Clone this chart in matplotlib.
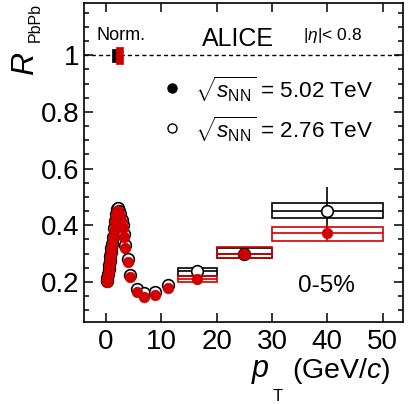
import numpy as np
import matplotlib
matplotlib.use('Agg')
import matplotlib.pyplot as plt
from matplotlib.patches import Rectangle
from matplotlib.ticker import MultipleLocator, FixedLocator, FixedFormatter

plt.rcParams['font.family'] = ['Liberation Sans', 'DejaVu Sans']
plt.rcParams['mathtext.fontset'] = 'custom'
plt.rcParams['mathtext.rm'] = 'Liberation Sans'
plt.rcParams['mathtext.it'] = 'Liberation Sans:italic'
plt.rcParams['mathtext.bf'] = 'Liberation Sans:bold'

# sqrt(sNN) = 5.02 TeV (red, filled)
pt_502 = [0.175, 0.25, 0.35, 0.45, 0.55, 0.65, 0.75, 0.85, 0.95, 1.05, 1.2, 1.4, 1.6,
          1.8, 2.0, 2.2, 2.4, 2.6, 2.8, 3.0, 3.2, 3.5, 3.9, 4.4, 5.6, 6.8, 8.9, 11.2,
          16.5, 25.0, 40.0]
raa_502 = [0.20, 0.21, 0.225, 0.24, 0.255, 0.27, 0.285, 0.30, 0.315, 0.33, 0.355, 0.385, 0.41,
           0.435, 0.45, 0.45, 0.44, 0.43, 0.41, 0.39, 0.36, 0.32, 0.27, 0.218, 0.165, 0.147, 0.154, 0.18,
           0.21, 0.30, 0.373]
stat_502 = [0.002] * 28 + [0.008, 0.012, 0.03]

# sqrt(sNN) = 2.76 TeV (black, open)
pt_276 = pt_502
raa_276 = [0.205, 0.215, 0.23, 0.245, 0.26, 0.275, 0.29, 0.305, 0.32, 0.335, 0.36, 0.39, 0.415,
           0.44, 0.458, 0.46, 0.45, 0.44, 0.42, 0.40, 0.37, 0.33, 0.28, 0.225, 0.175, 0.16, 0.165, 0.19,
           0.239, 0.30, 0.451]
stat_276 = [0.002] * 28 + [0.012, 0.02, 0.085]

# systematic boxes for the high-pT bins
bin_lo = [13.0, 20.0, 30.0]
bin_hi = [20.0, 30.0, 50.0]
sys_502 = [0.011, 0.02, 0.025]
sys_276 = [0.014, 0.018, 0.027]
cen_502_box = [0.21, 0.305, 0.37]
cen_276_box = [0.235, 0.302, 0.452]

# normalisation uncertainties
norm_x = [1.1, 1.8]
norm_w = [0.7, 1.3]
norm_unc = [0.023, 0.03]

red = '#d00000'

fig = plt.figure(figsize=(4.10, 4.04), dpi=100)
ax = fig.add_axes([84 / 410, 1 - 322 / 404, (403 - 84) / 410, (322 - 3) / 404])

ax.set_xlim(-4, 53.7)
ax.set_ylim(0.059, 1.184)

ax.axhline(1.0, color='black', lw=1.0, ls=(0, (3, 2.2)), zorder=1)

# norm boxes
ax.add_patch(Rectangle((norm_x[0], 1 - norm_unc[0]), norm_w[0], 2 * norm_unc[0],
                       facecolor='black', edgecolor='black', lw=0.5, zorder=3))
ax.add_patch(Rectangle((norm_x[1], 1 - norm_unc[1]), norm_w[1], 2 * norm_unc[1],
                       facecolor=red, edgecolor=red, lw=0.5, zorder=3))

# sys boxes
for i in range(len(bin_lo)):
    ax.add_patch(Rectangle((bin_lo[i], cen_276_box[i] - sys_276[i]), bin_hi[i] - bin_lo[i],
                           2 * sys_276[i], fill=False, edgecolor='black', lw=1.2, zorder=2))
    ax.add_patch(Rectangle((bin_lo[i], cen_502_box[i] - sys_502[i]), bin_hi[i] - bin_lo[i],
                           2 * sys_502[i], fill=False, edgecolor=red, lw=1.2, zorder=4))

n_lo = len(pt_502) - len(bin_lo)
xerr = np.array([0.0] * n_lo + [(h - l) / 2 for l, h in zip(bin_lo, bin_hi)])
xc = np.array(pt_502, dtype=float)
xc[n_lo:] = [(h + l) / 2 for l, h in zip(bin_lo, bin_hi)]

ax.errorbar(xc, raa_276, yerr=stat_276, xerr=xerr, fmt='none', ecolor='black',
            elinewidth=1.2, capsize=0, zorder=2.5)
ax.plot(pt_276, raa_276, 'o', ms=8.4, mfc='white', mec='black', mew=1.2, zorder=3)

ax.errorbar(xc, raa_502, yerr=stat_502, xerr=xerr, fmt='none', ecolor=red,
            elinewidth=1.2, capsize=0, zorder=4.5)
ax.plot(pt_502, raa_502, 'o', ms=7.6, mfc=red, mec=red, mew=0.5, zorder=5)

# ticks
ax.xaxis.set_major_locator(FixedLocator([0, 10, 20, 30, 40, 50]))
ax.yaxis.set_major_locator(FixedLocator([0.2, 0.4, 0.6, 0.8, 1.0]))
ax.yaxis.set_major_formatter(FixedFormatter(['0.2', '0.4', '0.6', '0.8', '1']))
ax.yaxis.set_minor_locator(MultipleLocator(0.05))
ax.tick_params(axis='both', which='both', direction='in', top=True, right=True,
               labelsize=20, width=1.1)
ax.tick_params(axis='both', which='major', length=6.5)
ax.tick_params(axis='y', which='minor', length=3.6)
ax.tick_params(axis='x', pad=5)
ax.tick_params(axis='y', pad=3)
for s in ax.spines.values():
    s.set_linewidth(1.2)

# texts in the frame
ax.text(-1.8, 1.053, 'Norm.', fontsize=13, ha='left', va='baseline')
ax.text(23.9, 1.032, 'ALICE', fontsize=18, ha='center', va='baseline')
ax.text(35.7, 1.053, r'|$\eta$|< 0.8', fontsize=12.5, ha='left', va='baseline')
ax.text(39.9, 0.165, '0-5%', fontsize=17.5, ha='center', va='baseline')

# legend
ax.plot([12.0], [0.883], 'o', ms=6.5, mfc='black', mec='black')
ax.plot([12.0], [0.742], 'o', ms=6.5, mfc='white', mec='black', mew=1.0)
ax.text(16.1, 0.848, r'$\sqrt{s_{\rm NN}}$ = 5.02 TeV', fontsize=16.2, ha='left', va='baseline')
ax.text(16.1, 0.707, r'$\sqrt{s_{\rm NN}}$ = 2.76 TeV', fontsize=16.2, ha='left', va='baseline')

# axis titles
fig.text(252 / 410, 1 - 377 / 404, 'p', fontsize=22, style='italic', ha='left', va='baseline')
fig.text(273 / 410, 1 - 401 / 404, 'T', fontsize=12, ha='left', va='baseline')
fig.text(292 / 410, 1 - 378 / 404, r'(GeV/$c$)', fontsize=20.5, ha='left', va='baseline')

fig.text(33 / 410, 1 - 75 / 404, 'R', fontsize=23, style='italic', rotation=90,
         rotation_mode='anchor', ha='left', va='baseline')
fig.text(40 / 410, 1 - 42 / 404, 'PbPb', fontsize=11.5, rotation=90,
         rotation_mode='anchor', ha='left', va='baseline')

fig.savefig('out.png', dpi=100)
